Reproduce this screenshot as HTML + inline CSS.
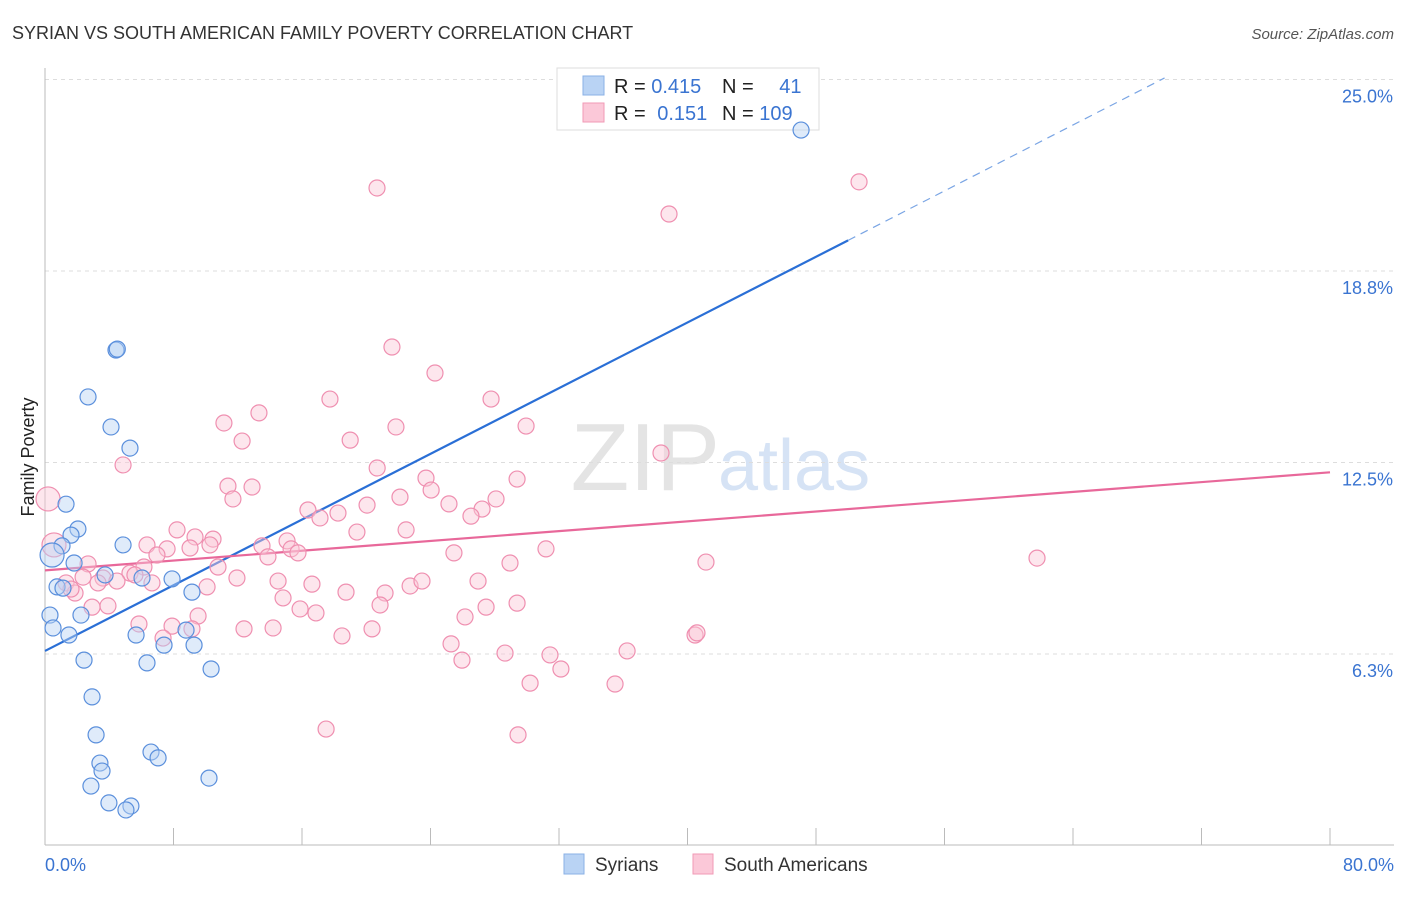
<!DOCTYPE html>
<html><head><meta charset="utf-8"><style>
body{margin:0;background:#fff;font-family:"Liberation Sans",sans-serif;}
svg text{font-family:"Liberation Sans",sans-serif;}
</style></head><body>
<svg id="chart" width="1406" height="892">
<text x="12" y="39" font-size="18" fill="#333">SYRIAN VS SOUTH AMERICAN FAMILY POVERTY CORRELATION CHART</text>
<text x="1394" y="39" font-size="15" fill="#555" font-style="italic" text-anchor="end">Source: ZipAtlas.com</text>
<text x="720" y="490" font-size="96" fill="#e4e4e4" text-anchor="end" font-family="Liberation Serif">ZIP</text>
<text x="718" y="490" font-size="72" fill="#d6e3f5">atlas</text>
<text x="34" y="457" font-size="18" fill="#222" text-anchor="middle" transform="rotate(-90 34 457)">Family Poverty</text>
<g id="grid"></g><g id="axes"></g><g id="lines"></g>
<g>
<rect x="557" y="68" width="262" height="62" fill="#fff" stroke="#ddd"/>
<rect x="583" y="76" width="21" height="19" fill="#b9d3f4" stroke="#8ab0e6"/>
<rect x="583" y="103" width="21" height="19" fill="#fbc8d8" stroke="#f09ab6"/>
<text x="614" y="93" font-size="20" fill="#222">R = <tspan fill="#3a74d1">0.415</tspan></text>
<text x="722" y="93" font-size="20" fill="#222">N = <tspan fill="#3a74d1" dx="20">41</tspan></text>
<text x="614" y="120" font-size="20" fill="#222">R = <tspan fill="#3a74d1" dx="6">0.151</tspan></text>
<text x="722" y="120" font-size="20" fill="#222">N = <tspan fill="#3a74d1">109</tspan></text>
</g>
<g id="pts"></g>
<g>
<rect x="564" y="854" width="20" height="20" fill="#b9d3f4" stroke="#8ab0e6"/>
<text x="595" y="871" font-size="19" fill="#333">Syrians</text>
<rect x="693" y="854" width="20" height="20" fill="#fbc8d8" stroke="#f09ab6"/>
<text x="724" y="871" font-size="19" fill="#333">South Americans</text>
</g>
</svg>
<script>
const yTicks=[6.3,12.5,18.8,25.0];
const yTickVals=[6.25,12.5,18.75,25];
const blueX=[47.07,4.42,2.68,4.11,5.29,1.31,2.05,1.62,1.06,4.86,1.81,3.74,6.04,7.91,0.75,1.12,9.15,0.31,2.24,0.50,1.49,5.67,8.78,7.41,9.28,2.43,6.35,10.34,2.93,3.18,3.42,3.55,6.60,7.04,10.21,2.86,3.98,5.35,5.04,0.44,4.5];
const blueY=[23.35,16.17,14.64,13.66,12.97,11.14,10.33,10.13,9.78,9.81,9.22,8.83,8.73,8.70,8.44,8.40,8.27,7.52,7.52,7.10,6.87,6.87,7.03,6.54,6.54,6.05,5.96,5.76,4.85,3.61,2.69,2.43,3.05,2.86,2.20,1.94,1.39,1.29,1.16,9.48,16.2];
const pinkX=[20.67,50.68,38.85,21.60,24.28,17.74,27.77,13.32,11.14,21.85,29.95,19.00,12.27,4.86,38.35,20.68,23.72,29.39,11.39,12.89,24.04,22.10,28.08,11.70,25.15,20.05,27.21,16.37,18.24,17.12,26.52,22.48,19.42,8.22,10.46,9.34,6.35,7.60,6.97,9.03,10.27,13.51,15.07,15.32,15.75,13.88,25.46,31.19,28.95,41.15,61.76,10.77,2.68,6.16,5.29,3.61,4.48,3.30,2.37,1.31,1.87,1.62,5.60,6.66,11.95,10.09,14.51,16.62,18.74,21.17,22.73,23.47,26.96,14.82,15.88,16.87,20.86,29.39,27.46,26.15,3.92,2.93,9.53,5.85,7.91,9.15,12.39,14.20,20.36,18.49,7.35,40.47,40.59,25.28,28.64,31.44,36.24,25.96,32.12,30.20,35.49,17.50,29.45,0.19,0.56];
const pinkY=[21.46,21.66,20.61,16.27,15.42,14.57,14.57,14.12,13.79,13.66,13.69,13.23,13.20,12.42,12.81,12.32,11.99,11.96,11.73,11.70,11.60,11.37,11.31,11.31,11.15,11.11,10.98,10.95,10.85,10.69,10.75,10.30,10.23,10.30,10.00,10.07,9.81,9.68,9.48,9.71,9.81,9.78,9.94,9.68,9.55,9.42,9.55,9.68,9.22,9.25,9.38,9.09,9.19,9.09,8.89,8.73,8.63,8.57,8.76,8.57,8.24,8.37,8.83,8.57,8.73,8.44,8.63,8.53,8.27,8.24,8.47,8.63,8.63,8.08,7.72,7.59,7.85,7.91,7.78,7.46,7.82,7.78,7.49,7.23,7.16,7.07,7.07,7.10,7.07,6.84,6.77,6.87,6.94,6.58,6.28,6.22,6.35,6.05,5.76,5.30,5.27,3.80,3.61,11.31,9.81];
const blueFit=[6.35,19.75];const blueFitX=[0,50];const blueDashEnd=[69.7,25.05];
const pinkFit=[8.98,12.18];
const NS="http://www.w3.org/2000/svg";
const X=v=>45+v/80*1285;
const Y=v=>654-(v-6.25)*30.64;
function mk(parent,tag,attrs){const e=document.createElementNS(NS,tag);for(const k in attrs)e.setAttribute(k,attrs[k]);document.getElementById(parent).appendChild(e);return e;}
yTickVals.forEach((v,i)=>{
 const g=mk('grid','line',{x1:45,x2:1394,y1:Y(v),y2:Y(v),stroke:'#ddd','stroke-dasharray':'4,4'});
 
 
 const t=mk('axes','text',{x:1393,y:Y(v)+23,'font-size':18,fill:'#3a74d1','text-anchor':'end'});
 t.textContent=yTicks[i].toFixed(1)+'%';
 
 
});
const ax=mk('axes','line',{x1:45,x2:1394,y1:845,y2:845,stroke:'#bbb'});


const ay=mk('axes','line',{x1:45,x2:45,y1:68,y2:845,stroke:'#bbb'});


for(let i=0;i<=10;i++){const v=i*8;const t=mk('axes','line',{x1:X(v),x2:X(v),y1:828,y2:845,stroke:'#bbb'});
 
 }
[['0.0%',0,'start',45],['80.0%',80,'end',1394]].forEach(a=>{const t=mk('axes','text',{x:a[3],y:871,'font-size':18,fill:'#3a74d1','text-anchor':a[2]});t.textContent=a[0];
 
 });
function dots(xs,ys,fill,stroke,name){xs.forEach((x,i)=>{const big=(x<0.6&&i>=xs.length-2);const c=mk('pts','circle',{cx:X(x),cy:Y(ys[i]),r:big?12:8,fill:fill,'fill-opacity':0.45,stroke:stroke,'stroke-width':1.2});
 
 });}
dots(pinkX,pinkY,'#fbc8d8','#ef8fb0','south-american-point');
dots(blueX,blueY,'#b9d3f4','#5a8fdc','syrian-point');
const bl=mk('lines','line',{x1:X(blueFitX[0]),y1:Y(blueFit[0]),x2:X(blueFitX[1]),y2:Y(blueFit[1]),stroke:'#2a6fd6','stroke-width':2.2});


const bd=mk('lines','line',{x1:X(blueFitX[1]),y1:Y(blueFit[1]),x2:X(blueDashEnd[0]),y2:Y(blueDashEnd[1]),stroke:'#7aa5e4','stroke-width':1.2,'stroke-dasharray':'8,6'});


const pl=mk('lines','line',{x1:X(0),y1:Y(pinkFit[0]),x2:X(80),y2:Y(pinkFit[1]),stroke:'#e8689a','stroke-width':2.2});


</script>
</body></html>
